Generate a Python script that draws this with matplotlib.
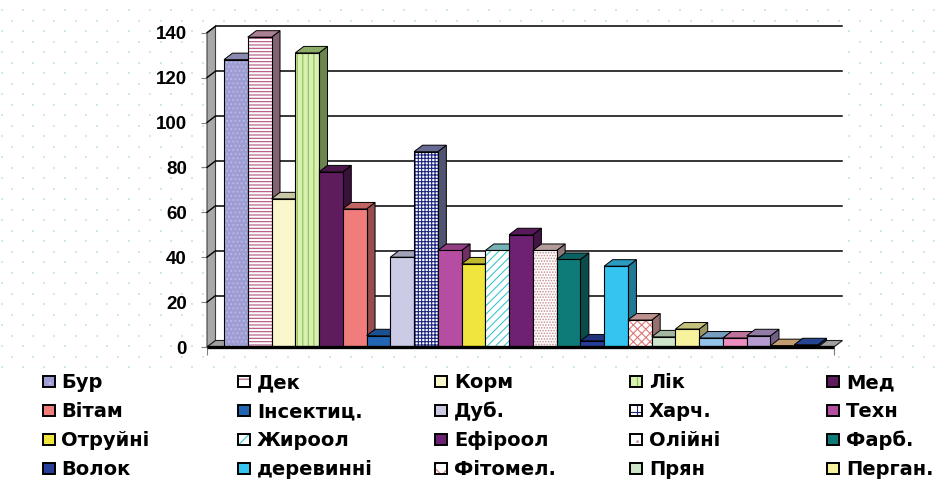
import numpy as np
import matplotlib
matplotlib.use("Agg")
import matplotlib.pyplot as plt
from matplotlib.patches import Polygon, Rectangle
from matplotlib import colors as mcolors

plt.rcParams['font.family'] = ['Liberation Sans', 'DejaVu Sans']
plt.rcParams['font.weight'] = 'bold'
plt.rcParams['hatch.linewidth'] = 0.8

# ---------------- data ----------------
legend_labels = ["Бур", "Дек", "Корм", "Лік", "Мед",
                 "Вітам", "Інсектиц.", "Дуб.", "Харч.", "Техн",
                 "Отруйні", "Жироол", "Ефіроол", "Олійні", "Фарб.",
                 "Волок", "деревинні", "Фітомел.", "Прян", "Перган."]
# 25 series are drawn; only the first 20 fit in the legend of the original
values = [128, 138, 66, 131, 78,
          61.5, 5, 40, 87, 43,
          37, 43, 50, 43, 39,
          2.7, 36, 12, 4.5, 8,
          4, 4, 5, 0.6, 1]
y_ticks = [0, 20, 40, 60, 80, 100, 120, 140]

# ---------------- styles ----------------
face_colors = ["#9d9dd3", "#ffffff", "#faf7cd", "#d8f0b0", "#5e1c5e",
               "#f07c7c", "#2365b5", "#cbcbe6", "#ffffff", "#b54ea2",
               "#efe53c", "#ffffff", "#6e2073", "#ffffff", "#0f7b78",
               "#283f9a", "#35c3ef", "#ffffff", "#cfe5c9", "#f6f29d",
               "#94c4ec", "#ec8fc0", "#b59bd0", "#f4c48c", "#2f55b5"]
hatches = ["....", "-----", None, "|||", None,
           None, None, None, "+++++", None,
           None, "////", None, "......", None,
           None, None, "xxxx", None, None,
           None, None, None, None, None]
hatch_colors = ["#babae6", "#b0527f", None, "#8cc058", None,
                None, None, None, "#1a237e", None,
                None, "#3cc6d0", None, "#c89090", None,
                None, None, "#e07878", None, None,
                None, None, None, None, None]

W, H = 939, 482
fig = plt.figure(figsize=(W / 100, H / 100), dpi=100)
fig.patch.set_facecolor('white')

# background (pixel coordinates) with dot pattern
ax_bg = fig.add_axes([0, 0, 1, 1], zorder=-10)
ax_bg.set_xlim(0, W)
ax_bg.set_ylim(H, 0)
ax_bg.axis('off')
dx_pts, dy_pts = [], []
k = 0
yy = 10.0
while yy < 368:
    start = 22.7 + (10.6 if k % 2 else 0) - 21.2 * 2
    xs = np.arange(start, W + 10, 21.2)
    dx_pts.extend(xs)
    dy_pts.extend([yy] * len(xs))
    yy += 10.5
    k += 1
ax_bg.scatter(dx_pts, dy_pts, s=3, marker='s', color='#cde8f0', linewidths=0)

# main axes (front plane)
left_px, right_px = 207, 834
zero_px, top_px = 347, 32.7
ax = fig.add_axes([left_px / W, (H - zero_px) / H,
                   (right_px - left_px) / W, (zero_px - top_px) / H])
ax.set_facecolor('none')
n = len(values)
xlo, xhi = -1.215, n - 0.5 + 0.673
ax.set_xlim(xlo, xhi)
ax.set_ylim(0, 140)
for s in ax.spines.values():
    s.set_visible(False)

ppu_x = (right_px - left_px) / (xhi - xlo)
ppu_y = (zero_px - top_px) / 140.0
ddx = 8.5 / ppu_x
ddy = 6.5 / ppu_y

# back wall (white)
ax.add_patch(Polygon([(xlo + ddx, ddy), (xhi + ddx, ddy), (xhi + ddx, 140 + ddy), (xlo + ddx, 140 + ddy)],
                     closed=True, facecolor='white', edgecolor='none', zorder=0.5, clip_on=False))
# gridlines on back wall and left wall
for v in y_ticks[1:]:
    ax.plot([xlo + ddx, xhi + ddx], [v + ddy, v + ddy], color='black', lw=1.1, zorder=1, clip_on=False)
# left wall
ax.add_patch(Polygon([(xlo, 0), (xlo, 140), (xlo + ddx, 140 + ddy), (xlo + ddx, ddy)],
                     closed=True, facecolor='#a8a8a8', edgecolor='#404040', lw=0.8, zorder=1.5, clip_on=False))
for v in y_ticks[1:]:
    ax.plot([xlo, xlo + ddx], [v, v + ddy], color='black', lw=1.0, zorder=1.6, clip_on=False)
# floor
ax.add_patch(Polygon([(xlo, 0), (xhi, 0), (xhi + ddx, ddy), (xlo + ddx, ddy)],
                     closed=True, facecolor='#a0a0a0', edgecolor='#202020', lw=0.8, zorder=1.7, clip_on=False))


def shade(c, f):
    r, g, b = mcolors.to_rgb(c)
    return (r * f, g * f, b * f)


def mix(c1, c2, t):
    a = np.array(mcolors.to_rgb(c1))
    b = np.array(mcolors.to_rgb(c2))
    return tuple(a * (1 - t) + b * t)


for i, v in enumerate(values):
    z = 2 + i * 0.01
    fc = face_colors[i]
    h = hatches[i]
    hc = hatch_colors[i]
    eff = fc if h is None else mix(fc, hc, 0.55)
    x0, x1 = i - 0.5, i + 0.5
    # side face
    ax.add_patch(Polygon([(x1, 0), (x1, v), (x1 + ddx, v + ddy), (x1 + ddx, ddy)], closed=True,
                         facecolor=shade(eff, 0.62), edgecolor='black', lw=0.7, zorder=z, clip_on=False))
    # top face
    ax.add_patch(Polygon([(x0, v), (x1, v), (x1 + ddx, v + ddy), (x0 + ddx, v + ddy)], closed=True,
                         facecolor=shade(eff, 0.8), edgecolor='black', lw=0.7, zorder=z, clip_on=False))
    # front face
    ax.bar(i, v, width=1.0, color=fc, edgecolor='none', zorder=z + 0.001)
    if h is not None:
        ax.bar(i, v, width=1.0, color='none', edgecolor=hc, hatch=h, lw=0, zorder=z + 0.002)
    ax.bar(i, v, width=1.0, color='none', edgecolor='black', lw=0.8, zorder=z + 0.003)

# thick front floor edge
ax.plot([xlo, xhi], [0, 0], color='black', lw=2.4, zorder=3, clip_on=False, solid_capstyle='butt')

ax.set_yticks(y_ticks)
ax.set_yticklabels([str(t) for t in y_ticks])
ax.tick_params(axis='y', length=4.5, width=0.8, color='#808080', pad=10, labelsize=13.5)
ax.set_xticks([xlo, xhi])
ax.set_xticklabels(['', ''])
ax.tick_params(axis='x', length=6, width=0.8, color='#808080')

# legend: 5 columns x 4 rows, uniform grid (pixel layout)
ncols = 5
col_x = [42.5, 238, 435, 630, 827]
row_base = [388, 417, 446.5, 475]
for j, lab in enumerate(legend_labels):
    r, c = divmod(j, ncols)
    mx = col_x[c]
    cy = row_base[r] - 7
    ax_bg.add_patch(Rectangle((mx, cy - 5.5), 12, 11, facecolor=face_colors[j], edgecolor='none', zorder=5))
    if hatches[j]:
        ax_bg.add_patch(Rectangle((mx, cy - 5.5), 12, 11, facecolor='none', edgecolor=hatch_colors[j],
                                  hatch=hatches[j][:2], lw=0, zorder=5.1))
    ax_bg.add_patch(Rectangle((mx, cy - 5.5), 12, 11, facecolor='none', edgecolor='black', lw=1.4, zorder=5.2))
    ax_bg.text(mx + 19, row_base[r], lab, fontsize=14, fontweight='bold',
               family=['DejaVu Sans'], ha='left', va='baseline', color='black', zorder=6)

fig.savefig('out.png', dpi=100)
